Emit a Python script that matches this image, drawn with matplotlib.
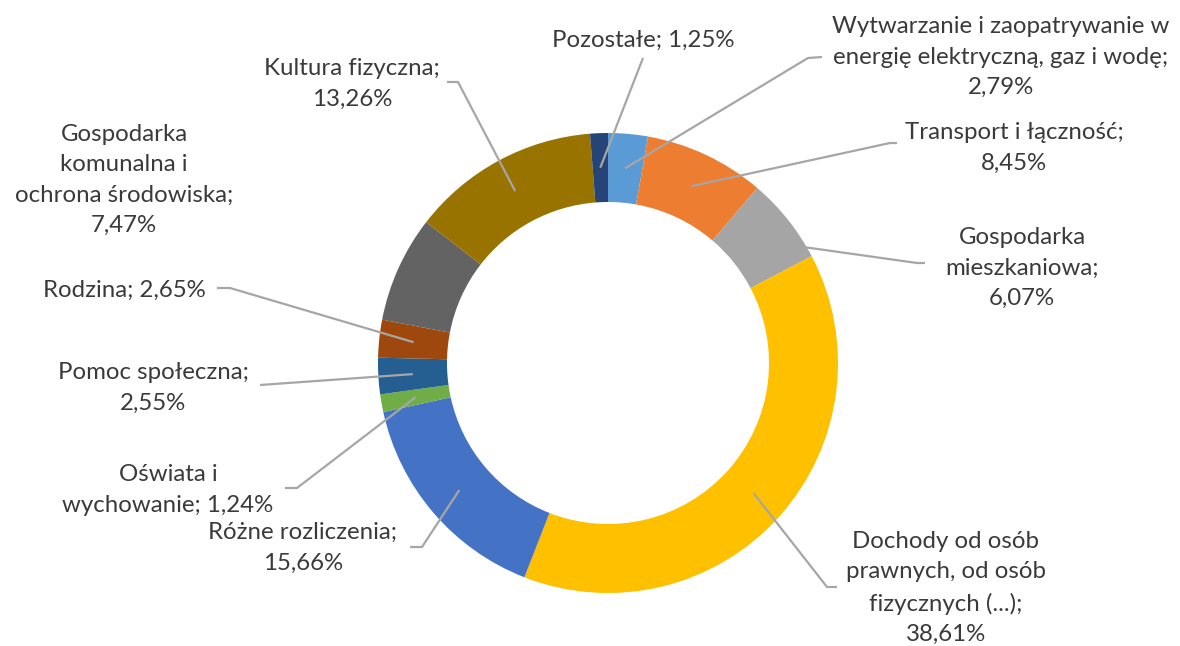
import matplotlib.pyplot as plt
import numpy as np

# =========================
# Dane (kolejność zgodnie z ruchem wskazówek zegara od godziny 12)
# =========================
names = [
    "Wytwarzanie i zaopatrywanie w\nenergię elektryczną, gaz i wodę;\n{}",
    "Transport i łączność;\n{}",
    "Gospodarka\nmieszkaniowa;\n{}",
    "Dochody od osób\nprawnych, od osób\nfizycznych (...);\n{}",
    "Różne rozliczenia;\n{}",
    "Oświata i\nwychowanie; {}",
    "Pomoc społeczna;\n{}",
    "Rodzina; {}",
    "Gospodarka\nkomunalna i\nochrona środowiska;\n{}",
    "Kultura fizyczna;\n{}",
    "Pozostałe; {}",
]
values = [2.79, 8.45, 6.07, 38.61, 15.66, 1.24, 2.55, 2.65, 7.47, 13.26, 1.25]
colors = ['#5B9BD5', '#ED7D31', '#A5A5A5', '#FFC000', '#4472C4', '#70AD47',
          '#255E91', '#9E480E', '#636363', '#997300', '#264478']

# położenie etykiet (piksele, od góry) i łamanie linii odniesienia
label_xy = [(1001, 57), (1014, 148), (1022, 268), (946, 588), (303, 548),
            (168, 490), (153, 388), (124, 290), (124, 180), (352, 84), (643, 40)]
leader_knee = [(808, 58), (890, 143), (917, 263), (827, 587), (422, 547),
               (297, 488), None, (230, 288), None, (458, 82), None]
leader_end = [(822, 57), (897, 143), (925, 263), (837, 587), (410, 547),
              (285, 488), (260, 385), (217, 288), None, (447, 82), (643, 58)]

W, H = 1180, 646
CX, CY = 608, 363
R_OUT, RING = 230, 69

plt.rcParams['font.family'] = 'Lato'

fig = plt.figure(figsize=(W / 100, H / 100), dpi=100)
ax = fig.add_axes([0, 0, 1, 1])

wedges, _ = ax.pie(
    values,
    colors=colors,
    startangle=90,
    counterclock=False,
    radius=R_OUT,
    center=(CX, H - CY),
    wedgeprops=dict(width=RING, linewidth=0),
)

ax.set_xlim(0, W)
ax.set_ylim(0, H)
ax.set_aspect('equal')
ax.axis('off')

# linie odniesienia i etykiety
r_mid = R_OUT - RING / 2
for i, w in enumerate(wedges):
    ang = np.deg2rad((w.theta1 + w.theta2) / 2)
    px = CX + r_mid * np.cos(ang)
    py = (H - CY) + r_mid * np.sin(ang)
    if leader_end[i] is not None:
        xs, ys = [px], [py]
        if leader_knee[i] is not None:
            xs.append(leader_knee[i][0])
            ys.append(H - leader_knee[i][1])
        xs.append(leader_end[i][0])
        ys.append(H - leader_end[i][1])
        ax.plot(xs, ys, color='#A6A6A6', lw=1.6, solid_capstyle='butt')

    pct = f"{values[i]:.2f}".replace('.', ',') + '%'
    lx, ly = label_xy[i]
    ax.text(lx, H - ly, names[i].format(pct), ha='center', va='center',
            fontsize=17.3, color='#3A3A3A', linespacing=1.55, multialignment='center')

plt.savefig('out.png', dpi=100)
